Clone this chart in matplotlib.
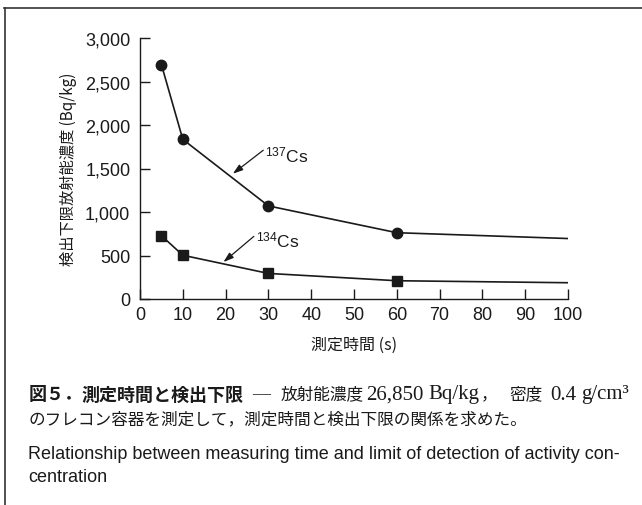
import matplotlib
matplotlib.use("Agg")
import matplotlib.pyplot as plt
from matplotlib.lines import Line2D

plt.rcParams['font.family'] = ['Liberation Sans', 'Noto Sans CJK JP']
plt.rcParams['mathtext.fontset'] = 'custom'
plt.rcParams['mathtext.rm'] = 'Liberation Sans'
plt.rcParams['mathtext.it'] = 'Liberation Sans'

# Data
time_s = [5, 10, 30, 60, 100]
cs137 = [2695, 1835, 1070, 762, 695]
cs134 = [728, 503, 294, 210, 187]
marker_idx = [0, 1, 2, 3]  # the value at 100 s has no marker
xticks = list(range(0, 101, 10))
yticks = [0, 500, 1000, 1500, 2000, 2500, 3000]
ytick_labels = ['0', '500', '1,000', '1,500', '2,000', '2,500', '3,000']

W, H = 642, 506
fig = plt.figure(figsize=(W / 100, H / 100), dpi=100)
ax = fig.add_axes([140 / W, 1 - 300 / H, 428 / W, 261 / H])

ax.plot(time_s, cs137, color='#1a1a1a', lw=1.2, marker='o', ms=7.5,
        markevery=marker_idx, markerfacecolor='#1a1a1a', markeredgecolor='#1a1a1a')
ax.plot(time_s, cs134, color='#1a1a1a', lw=1.2, marker='s', ms=7.5,
        markevery=marker_idx, markerfacecolor='#1a1a1a', markeredgecolor='#1a1a1a')

ax.set_xlim(0, 100)
ax.set_ylim(0, 3000)
ax.set_xticks(xticks)
ax.set_xticklabels([str(t) for t in xticks])
ax.set_yticks(yticks)
ax.set_yticklabels(ytick_labels)
for s in ['top', 'right']:
    ax.spines[s].set_visible(False)
for s in ['left', 'bottom']:
    ax.spines[s].set_linewidth(1.0)
    ax.spines[s].set_color('#1a1a1a')
ax.tick_params(direction='in', length=7, width=1.0, color='#1a1a1a',
               labelsize=13, labelcolor='#1a1a1a')
ax.tick_params(axis='y', pad=7)
ax.tick_params(axis='x', pad=5)

ax.set_ylabel('検出下限放射能濃度 (Bq/kg)', fontsize=11.0, color='#1a1a1a',
              family=['Noto Sans CJK JP'], labelpad=6)
ax.set_xlabel('測定時間 (s)', fontsize=11.5, color='#1a1a1a',
              family=['Noto Sans CJK JP'], labelpad=9)

arrowprops = dict(arrowstyle='-|>,head_length=0.6,head_width=0.2', color='#1a1a1a',
                  lw=0.9, shrinkA=0, shrinkB=0)
ax.annotate('', xy=(21.7, 1440), xytext=(28.8, 1710), arrowprops=arrowprops)
ax.text(29.3, 1660, r'$\mathregular{^{137}Cs}$', fontsize=12.5, color='#1a1a1a',
        va='center', ha='left')
ax.annotate('', xy=(19.5, 425), xytext=(26.6, 720), arrowprops=arrowprops)
ax.text(27.0, 680, r'$\mathregular{^{134}Cs}$', fontsize=12.5, color='#1a1a1a',
        va='center', ha='left')

# frame lines
fig.add_artist(Line2D([4 / W, 1], [1 - 9 / H, 1 - 9 / H], transform=fig.transFigure,
                      color='#333333', lw=1.2))
fig.add_artist(Line2D([5 / W, 5 / W], [1 - 9 / H, 0], transform=fig.transFigure,
                      color='#333333', lw=1.2))

# caption
c = '#1a1a1a'
y1 = 1 - 395 / H
cjk = ['Noto Sans CJK JP']
serif = ['Liberation Serif', 'Noto Sans CJK JP']
segments = [
    (29, '図５．', cjk, 13, 'bold'),
    (81, '測定時間と検出下限', cjk, 13, 'bold'),
    (252, '—', serif, 13, 'normal'),
    (281, '放射能濃度', cjk, 12.0, 'normal'),
    (366, '26,850', serif, 15, 'normal'),
    (428, 'Bq/kg', serif, 15, 'normal'),
    (481, '，', cjk, 12.0, 'normal'),
    (509, '密度', cjk, 12.0, 'normal'),
    (550, '0.4', serif, 15, 'normal'),
    (581, 'g/cm³', serif, 15, 'normal'),
]
for xp, txt, fam, fs, fw in segments:
    fig.text(xp / W, y1, txt, fontsize=fs, fontweight=fw, family=fam,
             va='center', ha='left', color=c)
fig.text(29 / W, 1 - 420 / H, 'のフレコン容器を測定して，測定時間と検出下限の関係を求めた。',
         fontsize=12.0, family=cjk, va='center', ha='left', color=c)
fig.text(28 / W, 1 - 455 / H, 'Relationship between measuring time and limit of detection of activity con-',
         fontsize=13.0, family=['Liberation Sans'], va='center', ha='left', color=c)
fig.text(28 / W, 1 - 478 / H, 'centration', fontsize=13.0, family=['Liberation Sans'],
         va='center', ha='left', color=c)

fig.savefig('out.png', dpi=100)
